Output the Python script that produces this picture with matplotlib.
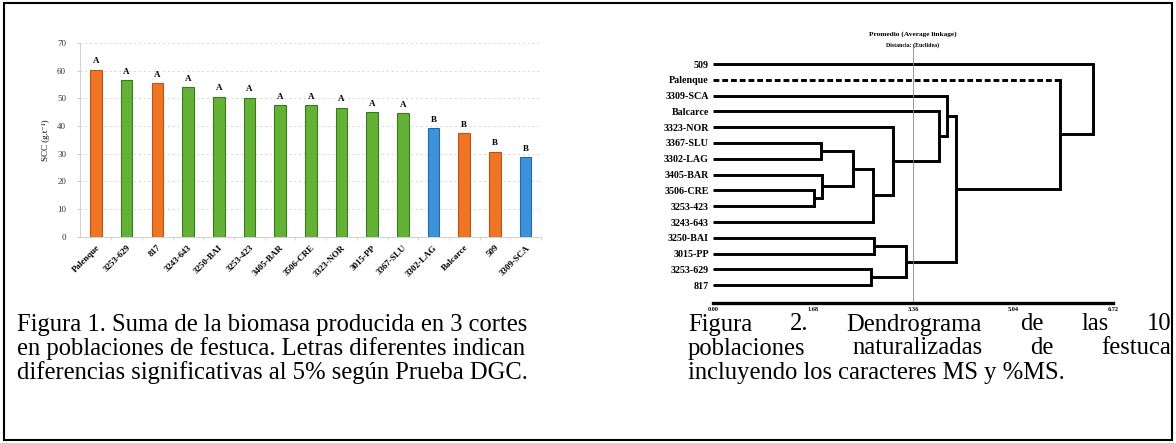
import numpy as np
import matplotlib.pyplot as plt
from matplotlib.patches import Rectangle

W, H = 1176, 443
DPI = 100

# ---- Figura 1: biomasa por poblacion ----
populations = ["Palenque", "3253-629", "817", "3243-643", "3250-BAI", "3253-423",
               "3405-BAR", "3506-CRE", "3323-NOR", "3015-PP", "3367-SLU",
               "3302-LAG", "Balcarce", "509", "3309-SCA"]
biomass = [60.3, 56.5, 55.5, 54.0, 50.6, 50.1, 47.5, 47.4, 46.6, 45.0, 44.6,
           39.2, 37.3, 30.7, 28.7]
letters = ["A", "A", "A", "A", "A", "A", "A", "A", "A", "A", "A",
           "B", "B", "B", "B"]
origin = ["o", "g", "o", "g", "g", "g", "g", "g", "g", "g", "g",
          "b", "o", "o", "b"]
y_ticks = [0, 10, 20, 30, 40, 50, 60, 70]

# ---- Figura 2: dendrograma ----
leaves = ["509", "Palenque", "3309-SCA", "Balcarce", "3323-NOR", "3367-SLU",
          "3302-LAG", "3405-BAR", "3506-CRE", "3253-423", "3243-643",
          "3250-BAI", "3015-PP", "3253-629", "817"]
# (nodo izq, nodo der, distancia); hojas 0..14, uniones 15..
merges = [(8, 9, 1.69), (7, 15, 1.83), (5, 6, 1.82), (17, 16, 2.35),
          (18, 10, 2.69), (4, 19, 3.03), (3, 20, 3.79), (2, 21, 3.93),
          (11, 12, 2.70), (13, 14, 2.66), (23, 24, 3.25), (22, 25, 4.09),
          (1, 26, 5.83), (0, 27, 6.39)]
dist_ticks = [0.00, 1.68, 3.36, 5.04, 6.72]
cut = 3.36

caption1 = ["Figura 1. Suma de la biomasa producida en 3 cortes",
            "en poblaciones de festuca. Letras diferentes indican",
            "diferencias significativas al 5% según Prueba DGC."]
caption2 = ["Figura 2. Dendrograma de las 10",
            "poblaciones naturalizadas de festuca",
            "incluyendo los caracteres MS y %MS."]

colors = {"o": ("#EE7524", "#B9531A"), "g": ("#63B236", "#3A7A1E"),
          "b": ("#3C93DC", "#2466A8")}
serif = ["Liberation Serif", "DejaVu Serif"]

fig = plt.figure(figsize=(W / DPI, H / DPI), dpi=DPI)


def px_axes(x0, y0, x1, y1):
    return fig.add_axes([x0 / W, 1 - y1 / H, (x1 - x0) / W, (y1 - y0) / H])


# ------------------------------------------------------------ bar chart
ax = px_axes(80, 42.8, 541, 236.7)
x = np.arange(len(populations))
fc = [colors[o][0] for o in origin]
ec = [colors[o][1] for o in origin]
ax.bar(x, biomass, width=0.38, color=fc, edgecolor=ec, linewidth=0.8, zorder=3)
for xi, v, l in zip(x, biomass, letters):
    ax.text(xi, v + 1.6, l, ha="center", va="bottom", fontsize=6.5,
            fontweight="bold", family=serif)
ax.set_xlim(-0.52, 14.45)
ax.set_ylim(0, 70)
ax.set_yticks(y_ticks)
ax.set_yticklabels([str(t) for t in y_ticks], fontsize=6.5, family=serif, color="#333333")
ax.set_xticks(x)
ax.set_xticklabels(populations, rotation=45, ha="right", rotation_mode="anchor",
                   fontsize=6.5, fontweight="bold", family=serif)
ax.tick_params(axis="x", length=0, pad=5)
ax.tick_params(axis="y", length=2, color="#cccccc", pad=8)
ax.set_xticks(x + 0.5, minor=True)
ax.tick_params(axis="x", which="minor", length=2, color="#cccccc")
ax.yaxis.grid(True, color="#d6d6d6", lw=0.7, ls=(0, (2, 3)), zorder=0)
for s in ["top", "right"]:
    ax.spines[s].set_visible(False)
for s in ["left", "bottom"]:
    ax.spines[s].set_color("#d0d0d0")
    ax.spines[s].set_linewidth(0.7)
ax.set_ylabel("SCC (g.t⁻¹)", fontsize=6.5, family=serif, labelpad=5)

# ------------------------------------------------------------ dendrogram
row0, drow = 64, 15.8
top_px, bot_px = 26, 303
dx = px_axes(713, top_px, 1113, bot_px)
dx.set_xlim(0, dist_ticks[-1])
dx.set_ylim((bot_px - row0) / drow, (top_px - row0) / drow)

node_x = [0.0] * len(leaves)
node_y = list(range(len(leaves)))
lw = 2.1
for a, b, h in merges:
    for c in (a, b):
        ls = (0, (2, 1)) if c == 1 else "-"
        dx.plot([node_x[c], h], [node_y[c], node_y[c]], color="black", lw=lw,
                ls=ls, solid_capstyle="butt", clip_on=False)
    dx.plot([h, h], [node_y[a], node_y[b]], color="black", lw=lw,
            solid_capstyle="projecting", clip_on=False)
    node_x.append(h)
    node_y.append((node_y[a] + node_y[b]) / 2)

dx.plot([cut, cut], [(45 - row0) / drow, (bot_px - 2 - row0) / drow],
        color="#8a8a8a", lw=0.6)
dx.text(cut, (34 - row0) / drow, "Promedio (Average linkage)", ha="center",
        va="center", fontsize=5.3, fontweight="bold", family=serif)
dx.text(cut, (45 - row0) / drow, "Distancia: (Euclidea)", ha="center",
        va="center", fontsize=4.2, fontweight="bold", family=serif)

dx.set_yticks(range(len(leaves)))
dx.set_yticklabels(leaves, fontsize=7.2, fontweight="bold", family=serif)
dx.tick_params(axis="y", length=0, pad=3)
dx.set_xticks(dist_ticks)
dx.set_xticklabels([f"{t:.2f}" for t in dist_ticks], fontsize=4.5,
                   fontweight="bold", family=serif)
dx.tick_params(axis="x", length=0, pad=3)
for s in ["top", "right", "left"]:
    dx.spines[s].set_visible(False)
dx.spines["bottom"].set_linewidth(2.4)

# ------------------------------------------------------------ captions
cap_rows = [322, 346, 370]
cap_fs = 17.7
for line, yp in zip(caption1, cap_rows):
    fig.text(17 / W, 1 - yp / H, line, fontsize=cap_fs, family=serif,
             ha="left", va="center_baseline")

fig.canvas.draw()
rend = fig.canvas.get_renderer()


def justified(line, x0, x1, yp):
    words = line.split()
    objs = [fig.text(0, 1 - yp / H, w, fontsize=cap_fs, family=serif,
                     ha="left", va="center_baseline") for w in words]
    widths = [o.get_window_extent(rend).width for o in objs]
    gap = ((x1 - x0) - sum(widths)) / (len(words) - 1)
    xp = x0
    for o, wd in zip(objs, widths):
        o.set_x(xp / W)
        xp += wd + gap


justified(caption2[0], 688, 1171, cap_rows[0])
justified(caption2[1], 688, 1171, cap_rows[1])
fig.text(688 / W, 1 - cap_rows[2] / H, caption2[2], fontsize=cap_fs,
         family=serif, ha="left", va="center_baseline")

fig.patches.append(Rectangle((4 / W, 3 / H), 1168 / W, 437 / H,
                             transform=fig.transFigure, fill=False,
                             lw=1.5, ec="black"))

fig.savefig("out.png", dpi=DPI)
